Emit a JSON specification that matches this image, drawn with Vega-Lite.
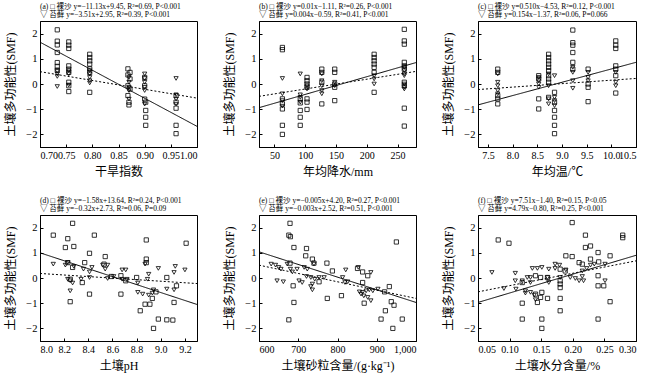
{
  "$schema": "https://vega.github.io/schema/vega-lite/v6.json",
  "padding": {"left": 4, "top": 2, "right": 4, "bottom": 2},
  "background": "white",
  "config": {
    "font": "Liberation Serif, Noto Sans CJK SC",
    "view": {"stroke": "black", "strokeWidth": 1},
    "axis": {"grid": false, "domainColor": "black", "tickColor": "black", "labelColor": "black", "titleColor": "black", "labelFontSize": 10.5, "titleFontSize": 12, "titleFontWeight": "normal", "tickSize": -3, "labelPadding": 6, "labelOverlap": false},
    "axisX": {"titlePadding": 6, "labelFontSize": 10},
    "axisY": {"titlePadding": 8},
    "title": {"fontSize": 7.5, "fontWeight": "normal", "anchor": "start", "frame": "group", "offset": 3, "lineHeight": 8, "color": "black"}
  },
  "datasets": {
    "pts": [
      {"p":"a","g":"裸沙","x":0.733,"y":2.15},{"p":"a","g":"裸沙","x":0.733,"y":1.7},{"p":"a","g":"裸沙","x":0.733,"y":1.55},{"p":"a","g":"裸沙","x":0.733,"y":1.25},{"p":"a","g":"裸沙","x":0.733,"y":0.85},{"p":"a","g":"裸沙","x":0.733,"y":0.7},{"p":"a","g":"裸沙","x":0.733,"y":0.55},
      {"p":"a","g":"裸沙","x":0.755,"y":1.67},{"p":"a","g":"裸沙","x":0.755,"y":1.54},{"p":"a","g":"裸沙","x":0.755,"y":1.41},{"p":"a","g":"裸沙","x":0.755,"y":0.72},{"p":"a","g":"裸沙","x":0.755,"y":0.59},{"p":"a","g":"裸沙","x":0.755,"y":0.46},{"p":"a","g":"裸沙","x":0.755,"y":0.07},{"p":"a","g":"裸沙","x":0.755,"y":-0.07},{"p":"a","g":"裸沙","x":0.755,"y":-0.3},
      {"p":"a","g":"裸沙","x":0.795,"y":1.18},{"p":"a","g":"裸沙","x":0.795,"y":1.05},{"p":"a","g":"裸沙","x":0.795,"y":0.92},{"p":"a","g":"裸沙","x":0.795,"y":0.79},{"p":"a","g":"裸沙","x":0.795,"y":0.6},{"p":"a","g":"裸沙","x":0.795,"y":0.46},{"p":"a","g":"裸沙","x":0.795,"y":-0.33},
      {"p":"a","g":"裸沙","x":0.868,"y":0.6},{"p":"a","g":"裸沙","x":0.872,"y":0.46},{"p":"a","g":"裸沙","x":0.868,"y":0.36},{"p":"a","g":"裸沙","x":0.872,"y":0.2},{"p":"a","g":"裸沙","x":0.868,"y":-0.07},{"p":"a","g":"裸沙","x":0.872,"y":-0.2},{"p":"a","g":"裸沙","x":0.868,"y":-0.46},{"p":"a","g":"裸沙","x":0.87,"y":-0.72},{"p":"a","g":"裸沙","x":0.87,"y":-0.83},
      {"p":"a","g":"裸沙","x":0.9,"y":0.26},{"p":"a","g":"裸沙","x":0.9,"y":-0.07},{"p":"a","g":"裸沙","x":0.9,"y":-0.6},{"p":"a","g":"裸沙","x":0.902,"y":-0.72},{"p":"a","g":"裸沙","x":0.902,"y":-1.05},{"p":"a","g":"裸沙","x":0.902,"y":-1.32},{"p":"a","g":"裸沙","x":0.902,"y":-1.64},
      {"p":"a","g":"裸沙","x":0.96,"y":-0.46},{"p":"a","g":"裸沙","x":0.96,"y":-0.72},{"p":"a","g":"裸沙","x":0.96,"y":-0.96},{"p":"a","g":"裸沙","x":0.96,"y":-1.64},{"p":"a","g":"裸沙","x":0.96,"y":-1.97},
      {"p":"a","g":"苔藓","x":0.733,"y":0.5},{"p":"a","g":"苔藓","x":0.733,"y":0.4},{"p":"a","g":"苔藓","x":0.733,"y":0.3},{"p":"a","g":"苔藓","x":0.733,"y":-0.1},
      {"p":"a","g":"苔藓","x":0.755,"y":0.53},{"p":"a","g":"苔藓","x":0.755,"y":0.4},{"p":"a","g":"苔藓","x":0.755,"y":-0.04},
      {"p":"a","g":"苔藓","x":0.795,"y":0.53},{"p":"a","g":"苔藓","x":0.795,"y":0.4},{"p":"a","g":"苔藓","x":0.795,"y":0.26},{"p":"a","g":"苔藓","x":0.795,"y":0.13},{"p":"a","g":"苔藓","x":0.795,"y":0.04},
      {"p":"a","g":"苔藓","x":0.87,"y":0.26},{"p":"a","g":"苔藓","x":0.87,"y":0.07},{"p":"a","g":"苔藓","x":0.87,"y":-0.13},{"p":"a","g":"苔藓","x":0.87,"y":-0.26},{"p":"a","g":"苔藓","x":0.87,"y":-0.6},
      {"p":"a","g":"苔藓","x":0.9,"y":0.4},{"p":"a","g":"苔藓","x":0.9,"y":0.22},{"p":"a","g":"苔藓","x":0.9,"y":0.07},{"p":"a","g":"苔藓","x":0.9,"y":-0.13},{"p":"a","g":"苔藓","x":0.9,"y":-0.26},{"p":"a","g":"苔藓","x":0.9,"y":-0.8},
      {"p":"a","g":"苔藓","x":0.96,"y":0.22},{"p":"a","g":"苔藓","x":0.96,"y":-0.43},{"p":"a","g":"苔藓","x":0.96,"y":-0.6},{"p":"a","g":"苔藓","x":0.96,"y":-0.8},

      {"p":"b","g":"裸沙","x":63,"y":1.45},{"p":"b","g":"裸沙","x":63,"y":1.36},{"p":"b","g":"裸沙","x":63,"y":-0.59},{"p":"b","g":"裸沙","x":63,"y":-0.79},{"p":"b","g":"裸沙","x":63,"y":-0.99},{"p":"b","g":"裸沙","x":63,"y":-1.64},{"p":"b","g":"裸沙","x":63,"y":-2.0},
      {"p":"b","g":"裸沙","x":92,"y":-0.59},{"p":"b","g":"裸沙","x":92,"y":-0.75},{"p":"b","g":"裸沙","x":92,"y":-1.05},{"p":"b","g":"裸沙","x":92,"y":-1.32},{"p":"b","g":"裸沙","x":92,"y":-1.64},
      {"p":"b","g":"裸沙","x":103,"y":0.26},{"p":"b","g":"裸沙","x":103,"y":0.13},{"p":"b","g":"裸沙","x":103,"y":0.0},{"p":"b","g":"裸沙","x":103,"y":-0.13},{"p":"b","g":"裸沙","x":103,"y":-0.59},{"p":"b","g":"裸沙","x":103,"y":-0.72},{"p":"b","g":"裸沙","x":103,"y":-1.01},
      {"p":"b","g":"裸沙","x":127,"y":0.59},{"p":"b","g":"裸沙","x":127,"y":0.46},{"p":"b","g":"裸沙","x":127,"y":0.07},{"p":"b","g":"裸沙","x":127,"y":-0.79},
      {"p":"b","g":"裸沙","x":148,"y":0.59},{"p":"b","g":"裸沙","x":148,"y":0.46},{"p":"b","g":"裸沙","x":148,"y":0.0},{"p":"b","g":"裸沙","x":148,"y":-0.13},{"p":"b","g":"裸沙","x":148,"y":-0.66},
      {"p":"b","g":"裸沙","x":212,"y":1.18},{"p":"b","g":"裸沙","x":212,"y":1.05},{"p":"b","g":"裸沙","x":212,"y":0.92},{"p":"b","g":"裸沙","x":212,"y":0.79},{"p":"b","g":"裸沙","x":212,"y":0.66},{"p":"b","g":"裸沙","x":212,"y":0.46},{"p":"b","g":"裸沙","x":212,"y":-0.33},
      {"p":"b","g":"裸沙","x":261,"y":2.17},{"p":"b","g":"裸沙","x":261,"y":1.71},{"p":"b","g":"裸沙","x":261,"y":1.58},{"p":"b","g":"裸沙","x":261,"y":0.86},{"p":"b","g":"裸沙","x":261,"y":0.72},{"p":"b","g":"裸沙","x":261,"y":0.59},{"p":"b","g":"裸沙","x":261,"y":0.07},{"p":"b","g":"裸沙","x":261,"y":-0.07},{"p":"b","g":"裸沙","x":261,"y":-0.96},{"p":"b","g":"裸沙","x":261,"y":-1.67},
      {"p":"b","g":"苔藓","x":63,"y":0.22},{"p":"b","g":"苔藓","x":63,"y":-0.39},{"p":"b","g":"苔藓","x":63,"y":-0.66},{"p":"b","g":"苔藓","x":63,"y":-0.88},
      {"p":"b","g":"苔藓","x":92,"y":0.4},{"p":"b","g":"苔藓","x":92,"y":-0.43},{"p":"b","g":"苔藓","x":92,"y":-0.53},{"p":"b","g":"苔藓","x":92,"y":-0.72},
      {"p":"b","g":"苔藓","x":103,"y":-0.07},{"p":"b","g":"苔藓","x":103,"y":-0.2},
      {"p":"b","g":"苔藓","x":127,"y":0.4},{"p":"b","g":"苔藓","x":127,"y":0.13},{"p":"b","g":"苔藓","x":127,"y":-0.07},{"p":"b","g":"苔藓","x":127,"y":-0.26},{"p":"b","g":"苔藓","x":127,"y":-0.39},
      {"p":"b","g":"苔藓","x":148,"y":0.07},{"p":"b","g":"苔藓","x":148,"y":-0.07},
      {"p":"b","g":"苔藓","x":212,"y":0.33},{"p":"b","g":"苔藓","x":212,"y":0.2},{"p":"b","g":"苔藓","x":212,"y":0.0},
      {"p":"b","g":"苔藓","x":261,"y":0.66},{"p":"b","g":"苔藓","x":261,"y":0.53},{"p":"b","g":"苔藓","x":261,"y":0.4},{"p":"b","g":"苔藓","x":261,"y":0.33},{"p":"b","g":"苔藓","x":261,"y":0.0},{"p":"b","g":"苔藓","x":261,"y":-0.13},{"p":"b","g":"苔藓","x":261,"y":-0.2},

      {"p":"c","g":"裸沙","x":7.7,"y":0.59},{"p":"c","g":"裸沙","x":7.7,"y":0.46},{"p":"c","g":"裸沙","x":7.7,"y":-0.46},{"p":"c","g":"裸沙","x":7.7,"y":-0.59},{"p":"c","g":"裸沙","x":7.7,"y":-0.79},
      {"p":"c","g":"裸沙","x":8.53,"y":0.33},{"p":"c","g":"裸沙","x":8.53,"y":0.2},{"p":"c","g":"裸沙","x":8.53,"y":-0.59},{"p":"c","g":"裸沙","x":8.53,"y":-0.99},
      {"p":"c","g":"裸沙","x":8.73,"y":1.18},{"p":"c","g":"裸沙","x":8.73,"y":1.05},{"p":"c","g":"裸沙","x":8.73,"y":0.92},{"p":"c","g":"裸沙","x":8.73,"y":0.79},{"p":"c","g":"裸沙","x":8.73,"y":0.66},{"p":"c","g":"裸沙","x":8.73,"y":0.53},{"p":"c","g":"裸沙","x":8.73,"y":0.33},{"p":"c","g":"裸沙","x":8.73,"y":0.2},{"p":"c","g":"裸沙","x":8.73,"y":0.07},{"p":"c","g":"裸沙","x":8.73,"y":-0.53},
      {"p":"c","g":"裸沙","x":8.85,"y":-0.33},{"p":"c","g":"裸沙","x":8.85,"y":-0.72},{"p":"c","g":"裸沙","x":8.85,"y":-1.05},{"p":"c","g":"裸沙","x":8.85,"y":-1.32},{"p":"c","g":"裸沙","x":8.85,"y":-1.64},{"p":"c","g":"裸沙","x":8.85,"y":-1.97},
      {"p":"c","g":"裸沙","x":9.22,"y":2.14},{"p":"c","g":"裸沙","x":9.22,"y":1.64},{"p":"c","g":"裸沙","x":9.22,"y":1.54},{"p":"c","g":"裸沙","x":9.22,"y":1.25},{"p":"c","g":"裸沙","x":9.22,"y":0.86},{"p":"c","g":"裸沙","x":9.22,"y":0.59},
      {"p":"c","g":"裸沙","x":9.53,"y":0.59},{"p":"c","g":"裸沙","x":9.53,"y":0.0},{"p":"c","g":"裸沙","x":9.53,"y":-0.13},{"p":"c","g":"裸沙","x":9.53,"y":-0.7},
      {"p":"c","g":"裸沙","x":10.09,"y":1.71},{"p":"c","g":"裸沙","x":10.09,"y":1.54},{"p":"c","g":"裸沙","x":10.09,"y":1.41},{"p":"c","g":"裸沙","x":10.09,"y":0.72},{"p":"c","g":"裸沙","x":10.09,"y":0.59},{"p":"c","g":"裸沙","x":10.09,"y":0.33},{"p":"c","g":"裸沙","x":10.09,"y":-0.36},
      {"p":"c","g":"苔藓","x":7.7,"y":0.4},{"p":"c","g":"苔藓","x":7.7,"y":0.07},{"p":"c","g":"苔藓","x":7.7,"y":-0.07},{"p":"c","g":"苔藓","x":7.7,"y":-0.26},{"p":"c","g":"苔藓","x":7.7,"y":-0.39},
      {"p":"c","g":"苔藓","x":8.53,"y":0.26},{"p":"c","g":"苔藓","x":8.53,"y":0.13},{"p":"c","g":"苔藓","x":8.53,"y":0.0},{"p":"c","g":"苔藓","x":8.53,"y":-0.13},
      {"p":"c","g":"苔藓","x":8.73,"y":0.4},{"p":"c","g":"苔藓","x":8.73,"y":-0.07},{"p":"c","g":"苔藓","x":8.73,"y":-0.59},{"p":"c","g":"苔藓","x":8.73,"y":-0.79},
      {"p":"c","g":"苔藓","x":8.85,"y":0.33},{"p":"c","g":"苔藓","x":8.85,"y":-0.53},{"p":"c","g":"苔藓","x":8.85,"y":-0.66},{"p":"c","g":"苔藓","x":8.85,"y":-0.86},
      {"p":"c","g":"苔藓","x":9.22,"y":0.66},{"p":"c","g":"苔藓","x":9.22,"y":0.46},{"p":"c","g":"苔藓","x":9.22,"y":0.13},{"p":"c","g":"苔藓","x":9.22,"y":-0.17},
      {"p":"c","g":"苔藓","x":9.53,"y":0.46},{"p":"c","g":"苔藓","x":9.53,"y":0.26},{"p":"c","g":"苔藓","x":9.53,"y":0.13},
      {"p":"c","g":"苔藓","x":10.09,"y":0.46},{"p":"c","g":"苔藓","x":10.09,"y":0.07},{"p":"c","g":"苔藓","x":10.09,"y":-0.07},

      {"p":"d","g":"裸沙","x":8.27,"y":2.17},{"p":"d","g":"裸沙","x":8.11,"y":1.7},{"p":"d","g":"裸沙","x":8.23,"y":1.56},{"p":"d","g":"裸沙","x":8.45,"y":1.7},{"p":"d","g":"裸沙","x":8.88,"y":1.51},{"p":"d","g":"裸沙","x":9.21,"y":1.38},{"p":"d","g":"裸沙","x":8.21,"y":1.21},{"p":"d","g":"裸沙","x":8.28,"y":1.25},{"p":"d","g":"裸沙","x":8.41,"y":0.98},{"p":"d","g":"裸沙","x":8.54,"y":0.85},{"p":"d","g":"裸沙","x":8.88,"y":0.75},{"p":"d","g":"裸沙","x":8.88,"y":0.61},{"p":"d","g":"裸沙","x":8.23,"y":0.61},{"p":"d","g":"裸沙","x":8.37,"y":0.61},{"p":"d","g":"裸沙","x":8.27,"y":0.42},{"p":"d","g":"裸沙","x":8.53,"y":0.55},{"p":"d","g":"裸沙","x":8.67,"y":0.09},{"p":"d","g":"裸沙","x":8.59,"y":0.06},{"p":"d","g":"裸沙","x":8.8,"y":0.02},{"p":"d","g":"裸沙","x":9.05,"y":0.02},{"p":"d","g":"裸沙","x":8.71,"y":-0.11},{"p":"d","g":"裸沙","x":8.35,"y":-0.18},{"p":"d","g":"裸沙","x":8.25,"y":-0.05},{"p":"d","g":"裸沙","x":8.41,"y":-0.64},{"p":"d","g":"裸沙","x":8.67,"y":-0.64},{"p":"d","g":"裸沙","x":9.13,"y":-0.31},{"p":"d","g":"裸沙","x":8.96,"y":-0.55},{"p":"d","g":"裸沙","x":8.25,"y":-0.94},{"p":"d","g":"裸沙","x":9.11,"y":-0.97},{"p":"d","g":"裸沙","x":8.93,"y":-0.81},{"p":"d","g":"裸沙","x":8.91,"y":-1.04},{"p":"d","g":"裸沙","x":8.87,"y":-1.04},{"p":"d","g":"裸沙","x":8.83,"y":-1.3},{"p":"d","g":"裸沙","x":8.98,"y":-1.63},{"p":"d","g":"裸沙","x":9.05,"y":-1.66},{"p":"d","g":"裸沙","x":9.1,"y":-1.67},{"p":"d","g":"裸沙","x":8.94,"y":-2.0},
      {"p":"d","g":"苔藓","x":8.11,"y":0.55},{"p":"d","g":"苔藓","x":8.21,"y":0.51},{"p":"d","g":"苔藓","x":8.23,"y":0.61},{"p":"d","g":"苔藓","x":8.28,"y":0.46},{"p":"d","g":"苔藓","x":8.36,"y":0.35},{"p":"d","g":"苔藓","x":8.41,"y":0.24},{"p":"d","g":"苔藓","x":8.43,"y":0.42},{"p":"d","g":"苔藓","x":8.52,"y":0.51},{"p":"d","g":"苔藓","x":8.56,"y":0.51},{"p":"d","g":"苔藓","x":8.54,"y":0.35},{"p":"d","g":"苔藓","x":8.68,"y":0.32},{"p":"d","g":"苔藓","x":8.71,"y":0.32},{"p":"d","g":"苔藓","x":8.56,"y":-0.02},{"p":"d","g":"苔藓","x":8.61,"y":0.06},{"p":"d","g":"苔藓","x":8.68,"y":-0.05},{"p":"d","g":"苔藓","x":8.72,"y":-0.05},{"p":"d","g":"苔藓","x":8.23,"y":-0.05},{"p":"d","g":"苔藓","x":8.25,"y":-0.11},{"p":"d","g":"苔藓","x":8.27,"y":-0.2},{"p":"d","g":"苔藓","x":8.34,"y":-0.05},{"p":"d","g":"苔藓","x":8.41,"y":0.02},{"p":"d","g":"苔藓","x":8.87,"y":0.55},{"p":"d","g":"苔藓","x":8.9,"y":0.15},{"p":"d","g":"苔藓","x":8.98,"y":0.38},{"p":"d","g":"苔藓","x":8.89,"y":-0.05},{"p":"d","g":"苔藓","x":8.81,"y":-0.2},{"p":"d","g":"苔藓","x":9.12,"y":0.46},{"p":"d","g":"苔藓","x":9.11,"y":0.22},{"p":"d","g":"苔藓","x":9.2,"y":0.32},{"p":"d","g":"苔藓","x":9.05,"y":-0.44},{"p":"d","g":"苔藓","x":9.11,"y":-0.47},{"p":"d","g":"苔藓","x":8.81,"y":-0.57},{"p":"d","g":"苔藓","x":8.85,"y":-0.64},{"p":"d","g":"苔藓","x":8.9,"y":-0.68},{"p":"d","g":"苔藓","x":8.94,"y":-0.47},{"p":"d","g":"苔藓","x":8.93,"y":-0.6},{"p":"d","g":"苔藓","x":8.25,"y":-0.51},

      {"p":"e","g":"裸沙","x":679,"y":2.17},{"p":"e","g":"裸沙","x":676,"y":1.7},{"p":"e","g":"裸沙","x":680,"y":1.64},{"p":"e","g":"裸沙","x":950,"y":1.43},{"p":"e","g":"裸沙","x":689,"y":1.21},{"p":"e","g":"裸沙","x":721,"y":1.17},{"p":"e","g":"裸沙","x":719,"y":0.88},{"p":"e","g":"裸沙","x":736,"y":0.75},{"p":"e","g":"裸沙","x":679,"y":0.59},{"p":"e","g":"裸沙","x":740,"y":0.59},{"p":"e","g":"裸沙","x":773,"y":0.59},{"p":"e","g":"裸沙","x":787,"y":0.28},{"p":"e","g":"裸沙","x":851,"y":0.38},{"p":"e","g":"裸沙","x":864,"y":0.24},{"p":"e","g":"裸沙","x":877,"y":0.09},{"p":"e","g":"裸沙","x":687,"y":-0.31},{"p":"e","g":"裸沙","x":753,"y":-0.15},{"p":"e","g":"裸沙","x":774,"y":-0.81},{"p":"e","g":"裸沙","x":810,"y":-0.7},{"p":"e","g":"裸沙","x":864,"y":-0.18},{"p":"e","g":"裸沙","x":932,"y":-0.34},{"p":"e","g":"裸沙","x":920,"y":-0.55},{"p":"e","g":"裸沙","x":937,"y":-0.94},{"p":"e","g":"裸沙","x":944,"y":-1.08},{"p":"e","g":"裸沙","x":868,"y":-1.0},{"p":"e","g":"裸沙","x":689,"y":-0.97},{"p":"e","g":"裸沙","x":676,"y":-1.66},{"p":"e","g":"裸沙","x":922,"y":-1.3},{"p":"e","g":"裸沙","x":911,"y":-1.63},{"p":"e","g":"裸沙","x":965,"y":-1.63},{"p":"e","g":"裸沙","x":941,"y":-2.0},
      {"p":"e","g":"苔藓","x":631,"y":0.55},{"p":"e","g":"苔藓","x":642,"y":0.51},{"p":"e","g":"苔藓","x":650,"y":0.42},{"p":"e","g":"苔藓","x":656,"y":0.35},{"p":"e","g":"苔藓","x":672,"y":0.55},{"p":"e","g":"苔藓","x":680,"y":0.35},{"p":"e","g":"苔藓","x":685,"y":0.24},{"p":"e","g":"苔藓","x":697,"y":0.35},{"p":"e","g":"苔藓","x":715,"y":0.42},{"p":"e","g":"苔藓","x":723,"y":0.35},{"p":"e","g":"苔藓","x":740,"y":0.55},{"p":"e","g":"苔藓","x":646,"y":-0.11},{"p":"e","g":"苔藓","x":662,"y":-0.15},{"p":"e","g":"苔藓","x":702,"y":-0.11},{"p":"e","g":"苔藓","x":710,"y":-0.18},{"p":"e","g":"苔藓","x":721,"y":0.06},{"p":"e","g":"苔藓","x":732,"y":0.02},{"p":"e","g":"苔藓","x":736,"y":-0.24},{"p":"e","g":"苔藓","x":742,"y":-0.05},{"p":"e","g":"苔藓","x":753,"y":0.02},{"p":"e","g":"苔藓","x":766,"y":0.02},{"p":"e","g":"苔藓","x":732,"y":-0.34},{"p":"e","g":"苔藓","x":736,"y":-0.47},{"p":"e","g":"苔藓","x":813,"y":0.02},{"p":"e","g":"苔藓","x":819,"y":-0.18},{"p":"e","g":"苔藓","x":821,"y":0.32},{"p":"e","g":"苔藓","x":853,"y":0.42},{"p":"e","g":"苔藓","x":885,"y":0.22},{"p":"e","g":"苔藓","x":826,"y":-0.15},{"p":"e","g":"苔藓","x":856,"y":-0.55},{"p":"e","g":"苔藓","x":864,"y":-0.57},{"p":"e","g":"苔藓","x":873,"y":-0.51},{"p":"e","g":"苔藓","x":881,"y":-0.47},{"p":"e","g":"苔藓","x":890,"y":-0.51},{"p":"e","g":"苔藓","x":903,"y":-0.44},{"p":"e","g":"苔藓","x":867,"y":-0.71},{"p":"e","g":"苔藓","x":877,"y":-0.77},{"p":"e","g":"苔藓","x":885,"y":-0.9},{"p":"e","g":"苔藓","x":860,"y":-0.64},

      {"p":"f","g":"裸沙","x":0.082,"y":1.51},{"p":"f","g":"裸沙","x":0.099,"y":1.38},{"p":"f","g":"裸沙","x":0.199,"y":2.2},{"p":"f","g":"裸沙","x":0.22,"y":1.7},{"p":"f","g":"裸沙","x":0.279,"y":1.7},{"p":"f","g":"裸沙","x":0.279,"y":1.6},{"p":"f","g":"裸沙","x":0.22,"y":1.21},{"p":"f","g":"裸沙","x":0.228,"y":1.27},{"p":"f","g":"裸沙","x":0.189,"y":0.88},{"p":"f","g":"裸沙","x":0.199,"y":0.85},{"p":"f","g":"裸沙","x":0.24,"y":1.01},{"p":"f","g":"裸沙","x":0.259,"y":0.88},{"p":"f","g":"裸沙","x":0.228,"y":0.75},{"p":"f","g":"裸沙","x":0.21,"y":0.61},{"p":"f","g":"裸沙","x":0.241,"y":0.64},{"p":"f","g":"裸沙","x":0.215,"y":0.55},{"p":"f","g":"裸沙","x":0.18,"y":0.35},{"p":"f","g":"裸沙","x":0.16,"y":0.02},{"p":"f","g":"裸沙","x":0.149,"y":0.02},{"p":"f","g":"裸沙","x":0.12,"y":-0.18},{"p":"f","g":"裸沙","x":0.141,"y":0.09},{"p":"f","g":"裸沙","x":0.188,"y":0.28},{"p":"f","g":"裸沙","x":0.18,"y":-0.11},{"p":"f","g":"裸沙","x":0.18,"y":-0.24},{"p":"f","g":"裸沙","x":0.18,"y":-0.38},{"p":"f","g":"裸沙","x":0.18,"y":-0.81},{"p":"f","g":"裸沙","x":0.18,"y":-1.3},{"p":"f","g":"裸沙","x":0.151,"y":-0.57},{"p":"f","g":"裸沙","x":0.149,"y":-0.77},{"p":"f","g":"裸沙","x":0.141,"y":-0.64},{"p":"f","g":"裸沙","x":0.12,"y":-1.0},{"p":"f","g":"裸沙","x":0.144,"y":-0.97},{"p":"f","g":"裸沙","x":0.16,"y":-0.81},{"p":"f","g":"裸沙","x":0.12,"y":-1.63},{"p":"f","g":"裸沙","x":0.151,"y":-1.63},{"p":"f","g":"裸沙","x":0.151,"y":-2.0},{"p":"f","g":"裸沙","x":0.24,"y":0.09},{"p":"f","g":"裸沙","x":0.24,"y":-0.31},{"p":"f","g":"裸沙","x":0.249,"y":-0.31},{"p":"f","g":"裸沙","x":0.24,"y":-1.63},{"p":"f","g":"裸沙","x":0.259,"y":-0.94},
      {"p":"f","g":"苔藓","x":0.072,"y":0.22},{"p":"f","g":"苔藓","x":0.091,"y":-0.42},{"p":"f","g":"苔藓","x":0.109,"y":0.19},{"p":"f","g":"苔藓","x":0.109,"y":-0.11},{"p":"f","g":"苔藓","x":0.11,"y":-0.44},{"p":"f","g":"苔藓","x":0.125,"y":-0.51},{"p":"f","g":"苔藓","x":0.12,"y":-0.11},{"p":"f","g":"苔藓","x":0.128,"y":0.02},{"p":"f","g":"苔藓","x":0.133,"y":0.02},{"p":"f","g":"苔藓","x":0.136,"y":0.38},{"p":"f","g":"苔藓","x":0.144,"y":0.38},{"p":"f","g":"苔藓","x":0.151,"y":0.42},{"p":"f","g":"苔藓","x":0.16,"y":0.02},{"p":"f","g":"苔藓","x":0.162,"y":-0.18},{"p":"f","g":"苔藓","x":0.133,"y":-0.18},{"p":"f","g":"苔藓","x":0.139,"y":-0.68},{"p":"f","g":"苔藓","x":0.141,"y":-0.86},{"p":"f","g":"苔藓","x":0.162,"y":0.35},{"p":"f","g":"苔藓","x":0.172,"y":0.38},{"p":"f","g":"苔藓","x":0.172,"y":0.55},{"p":"f","g":"苔藓","x":0.179,"y":0.51},{"p":"f","g":"苔藓","x":0.18,"y":0.02},{"p":"f","g":"苔藓","x":0.189,"y":0.32},{"p":"f","g":"苔藓","x":0.196,"y":0.02},{"p":"f","g":"苔藓","x":0.204,"y":-0.02},{"p":"f","g":"苔藓","x":0.21,"y":-0.11},{"p":"f","g":"苔藓","x":0.215,"y":0.06},{"p":"f","g":"苔藓","x":0.215,"y":0.28},{"p":"f","g":"苔藓","x":0.217,"y":-0.11},{"p":"f","g":"苔藓","x":0.222,"y":0.38},{"p":"f","g":"苔藓","x":0.228,"y":0.51},{"p":"f","g":"苔藓","x":0.234,"y":0.55},{"p":"f","g":"苔藓","x":0.251,"y":0.55},{"p":"f","g":"苔藓","x":0.251,"y":-0.11},{"p":"f","g":"苔藓","x":0.125,"y":-0.6},{"p":"f","g":"苔藓","x":0.133,"y":-0.57}
    ],
    "lns": [
      {"p":"a","g":"裸沙","x":0.7,"y":1.66},{"p":"a","g":"裸沙","x":1.0,"y":-1.68},{"p":"a","g":"苔藓","x":0.7,"y":0.49},{"p":"a","g":"苔藓","x":1.0,"y":-0.56},
      {"p":"b","g":"裸沙","x":25,"y":-0.94},{"p":"b","g":"裸沙","x":280,"y":0.85},{"p":"b","g":"苔藓","x":25,"y":-0.49},{"p":"b","g":"苔藓","x":280,"y":0.5},
      {"p":"c","g":"裸沙","x":7.3,"y":-0.83},{"p":"c","g":"裸沙","x":10.5,"y":0.86},{"p":"c","g":"苔藓","x":7.3,"y":-0.22},{"p":"c","g":"苔藓","x":10.5,"y":0.22},
      {"p":"d","g":"裸沙","x":8.0,"y":1.0},{"p":"d","g":"裸沙","x":9.3,"y":-1.05},{"p":"d","g":"苔藓","x":8.0,"y":0.18},{"p":"d","g":"苔藓","x":9.3,"y":-0.22},
      {"p":"e","g":"裸沙","x":600,"y":1.04},{"p":"e","g":"裸沙","x":1000,"y":-0.97},{"p":"e","g":"苔藓","x":600,"y":0.51},{"p":"e","g":"苔藓","x":1000,"y":-0.81},
      {"p":"f","g":"裸沙","x":0.05,"y":-0.97},{"p":"f","g":"裸沙","x":0.3,"y":0.9},{"p":"f","g":"苔藓","x":0.05,"y":-0.55},{"p":"f","g":"苔藓","x":0.3,"y":0.68}
    ]
  },
  "spacing": 18,
  "vconcat": [
    {"bounds": "flush", "spacing": 62, "hconcat": [
      {"width": 157, "height": 126,
       "title": {"text": ["(a) □ 裸沙 y=−11.13x+9.45, R²=0.69, P<0.001", "\u00a0\u00a0\u00a0\u00a0\u00a0▽ 苔藓 y=−3.51x+2.95, R²=0.39, P<0.001"]},
       "encoding": {
         "x": {"field": "x", "type": "quantitative", "scale": {"domain": [0.7, 1.0], "nice": false, "zero": false}, "axis": {"title": "干旱指数", "values": [0.7, 0.75, 0.8, 0.85, 0.9, 0.95, 1.0], "format": ".2f"}},
         "y": {"field": "y", "type": "quantitative", "scale": {"domain": [-2.5, 2.5], "nice": false}, "axis": {"title": "土壤多功能性(SMF)", "values": [-2, -1, 0, 1, 2], "format": "d"}}
       },
       "layer": [
         {"data": {"name": "pts"}, "transform": [{"filter": "datum.p=='a'"}], "mark": {"type": "point", "filled": false, "stroke": "black", "strokeWidth": 0.8, "size": 18, "opacity": 1},
          "encoding": {"shape": {"field": "g", "type": "nominal", "scale": {"domain": ["裸沙", "苔藓"], "range": ["square", "triangle-down"]}, "legend": null}}},
         {"data": {"name": "lns"}, "transform": [{"filter": "datum.p=='a'"}], "mark": {"type": "line", "color": "black", "strokeWidth": 1},
          "encoding": {"strokeDash": {"field": "g", "type": "nominal", "scale": {"domain": ["裸沙", "苔藓"], "range": [[1, 0], [2, 2]]}, "legend": null}}}
       ]},
      {"width": 157, "height": 126,
       "title": {"text": ["(b) □ 裸沙 y=0.01x−1.11, R²=0.26, P<0.001", "\u00a0\u00a0\u00a0\u00a0\u00a0▽ 苔藓 y=0.004x−0.59, R²=0.41, P<0.001"]},
       "encoding": {
         "x": {"field": "x", "type": "quantitative", "scale": {"domain": [25, 280], "nice": false, "zero": false}, "axis": {"title": "年均降水/mm", "values": [50, 100, 150, 200, 250]}},
         "y": {"field": "y", "type": "quantitative", "scale": {"domain": [-2.5, 2.5], "nice": false}, "axis": {"title": "土壤多功能性(SMF)", "values": [-2, -1, 0, 1, 2], "format": "d"}}
       },
       "layer": [
         {"data": {"name": "pts"}, "transform": [{"filter": "datum.p=='b'"}], "mark": {"type": "point", "filled": false, "stroke": "black", "strokeWidth": 0.8, "size": 18, "opacity": 1},
          "encoding": {"shape": {"field": "g", "type": "nominal", "scale": {"domain": ["裸沙", "苔藓"], "range": ["square", "triangle-down"]}, "legend": null}}},
         {"data": {"name": "lns"}, "transform": [{"filter": "datum.p=='b'"}], "mark": {"type": "line", "color": "black", "strokeWidth": 1},
          "encoding": {"strokeDash": {"field": "g", "type": "nominal", "scale": {"domain": ["裸沙", "苔藓"], "range": [[4, 2], [2, 2]]}, "legend": null}}}
       ]},
      {"width": 158, "height": 126,
       "title": {"text": ["(c) □ 裸沙 y=0.510x−4.53, R²=0.12, P<0.001", "\u00a0\u00a0\u00a0\u00a0\u00a0▽ 苔藓 y=0.154x−1.37, R²=0.06, P=0.066"]},
       "encoding": {
         "x": {"field": "x", "type": "quantitative", "scale": {"domain": [7.3, 10.5], "nice": false, "zero": false}, "axis": {"title": "年均温/℃", "values": [7.5, 8.0, 8.5, 9.0, 9.5, 10.0, 10.5], "format": ".1f"}},
         "y": {"field": "y", "type": "quantitative", "scale": {"domain": [-2.5, 2.5], "nice": false}, "axis": {"title": "土壤多功能性(SMF)", "values": [-2, -1, 0, 1, 2], "format": "d"}}
       },
       "layer": [
         {"data": {"name": "pts"}, "transform": [{"filter": "datum.p=='c'"}], "mark": {"type": "point", "filled": false, "stroke": "black", "strokeWidth": 0.8, "size": 18, "opacity": 1},
          "encoding": {"shape": {"field": "g", "type": "nominal", "scale": {"domain": ["裸沙", "苔藓"], "range": ["square", "triangle-down"]}, "legend": null}}},
         {"data": {"name": "lns"}, "transform": [{"filter": "datum.p=='c'"}], "mark": {"type": "line", "color": "black", "strokeWidth": 1},
          "encoding": {"strokeDash": {"field": "g", "type": "nominal", "scale": {"domain": ["裸沙", "苔藓"], "range": [[4, 2], [3, 3]]}, "legend": null}}}
       ]}
    ]},
    {"bounds": "flush", "spacing": 62, "hconcat": [
      {"width": 157, "height": 126,
       "title": {"text": ["(d) □ 裸沙 y=−1.58x+13.64, R²=0.24, P<0.001", "\u00a0\u00a0\u00a0\u00a0\u00a0▽ 苔藓 y=−0.32x+2.73, R²=0.06, P=0.09"]},
       "encoding": {
         "x": {"field": "x", "type": "quantitative", "scale": {"domain": [8.0, 9.3], "nice": false, "zero": false}, "axis": {"title": "土壤pH", "values": [8.0, 8.2, 8.4, 8.6, 8.8, 9.0, 9.2], "format": ".1f"}},
         "y": {"field": "y", "type": "quantitative", "scale": {"domain": [-2.5, 2.5], "nice": false}, "axis": {"title": "土壤多功能性(SMF)", "values": [-2, -1, 0, 1, 2], "format": "d"}}
       },
       "layer": [
         {"data": {"name": "pts"}, "transform": [{"filter": "datum.p=='d'"}], "mark": {"type": "point", "filled": false, "stroke": "black", "strokeWidth": 0.8, "size": 18, "opacity": 1},
          "encoding": {"shape": {"field": "g", "type": "nominal", "scale": {"domain": ["裸沙", "苔藓"], "range": ["square", "triangle-down"]}, "legend": null}}},
         {"data": {"name": "lns"}, "transform": [{"filter": "datum.p=='d'"}], "mark": {"type": "line", "color": "black", "strokeWidth": 1},
          "encoding": {"strokeDash": {"field": "g", "type": "nominal", "scale": {"domain": ["裸沙", "苔藓"], "range": [[3, 2], [3, 3]]}, "legend": null}}}
       ]},
      {"width": 157, "height": 126,
       "title": {"text": ["(e) □ 裸沙 y=−0.005x+4.20, R²=0.27, P<0.001", "\u00a0\u00a0\u00a0\u00a0\u00a0▽ 苔藓 y=−0.003x+2.52, R²=0.51, P<0.001"]},
       "encoding": {
         "x": {"field": "x", "type": "quantitative", "scale": {"domain": [600, 1000], "nice": false, "zero": false}, "axis": {"title": "土壤砂粒含量/(g·kg⁻¹)", "values": [600, 700, 800, 900, 1000]}},
         "y": {"field": "y", "type": "quantitative", "scale": {"domain": [-2.5, 2.5], "nice": false}, "axis": {"title": "土壤多功能性(SMF)", "values": [-2, -1, 0, 1, 2], "format": "d"}}
       },
       "layer": [
         {"data": {"name": "pts"}, "transform": [{"filter": "datum.p=='e'"}], "mark": {"type": "point", "filled": false, "stroke": "black", "strokeWidth": 0.8, "size": 18, "opacity": 1},
          "encoding": {"shape": {"field": "g", "type": "nominal", "scale": {"domain": ["裸沙", "苔藓"], "range": ["square", "triangle-down"]}, "legend": null}}},
         {"data": {"name": "lns"}, "transform": [{"filter": "datum.p=='e'"}], "mark": {"type": "line", "color": "black", "strokeWidth": 1},
          "encoding": {"strokeDash": {"field": "g", "type": "nominal", "scale": {"domain": ["裸沙", "苔藓"], "range": [[2, 2], [3, 2]]}, "legend": null}}}
       ]},
      {"width": 158, "height": 126,
       "title": {"text": ["(f) □ 裸沙 y=7.51x−1.40, R²=0.15, P<0.05", "\u00a0\u00a0\u00a0\u00a0\u00a0▽ 苔藓 y=4.79x−0.80, R²=0.25, P<0.001"]},
       "encoding": {
         "x": {"field": "x", "type": "quantitative", "scale": {"domain": [0.05, 0.3], "nice": false, "zero": false}, "axis": {"title": "土壤水分含量/%", "values": [0.05, 0.1, 0.15, 0.2, 0.25, 0.3], "format": ".2f"}},
         "y": {"field": "y", "type": "quantitative", "scale": {"domain": [-2.5, 2.5], "nice": false}, "axis": {"title": "土壤多功能性(SMF)", "values": [-2, -1, 0, 1, 2], "format": "d"}}
       },
       "layer": [
         {"data": {"name": "pts"}, "transform": [{"filter": "datum.p=='f'"}], "mark": {"type": "point", "filled": false, "stroke": "black", "strokeWidth": 0.8, "size": 18, "opacity": 1},
          "encoding": {"shape": {"field": "g", "type": "nominal", "scale": {"domain": ["裸沙", "苔藓"], "range": ["square", "triangle-down"]}, "legend": null}}},
         {"data": {"name": "lns"}, "transform": [{"filter": "datum.p=='f'"}], "mark": {"type": "line", "color": "black", "strokeWidth": 1},
          "encoding": {"strokeDash": {"field": "g", "type": "nominal", "scale": {"domain": ["裸沙", "苔藓"], "range": [[4, 2], [2, 2]]}, "legend": null}}}
       ]}
    ]}
  ]
}
